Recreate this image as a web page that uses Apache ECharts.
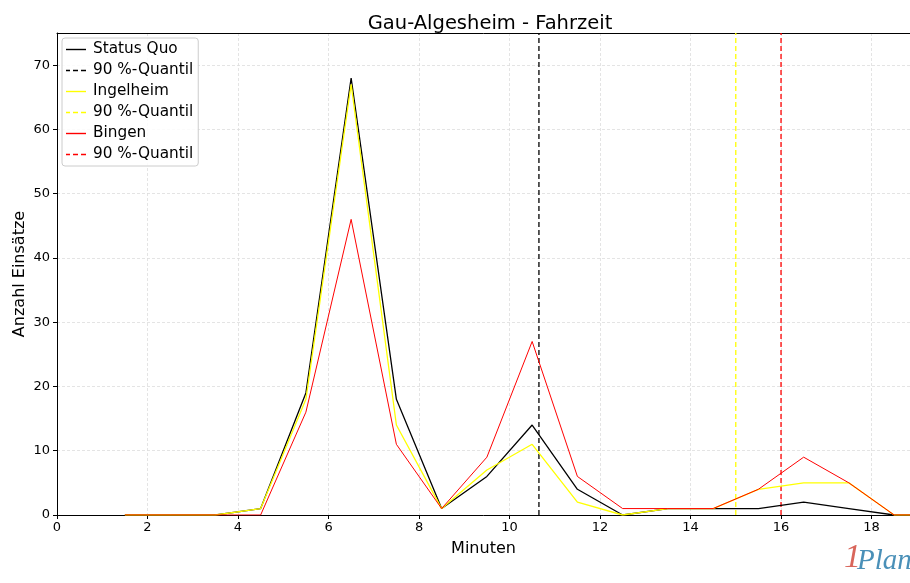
<!DOCTYPE html>
<html><head><meta charset="utf-8">
<script src="https://cdn.jsdelivr.net/npm/echarts@6/dist/echarts.min.js"></script>
<style>html,body{margin:0;padding:0;background:#fff}#c{width:910px;height:583px}</style>
</head><body><div id="c"></div>
<script>
const minutes = [1.5,2.5,3.5,4.5,5.5,6.5,7.5,8.5,9.5,10.5,11.5,12.5,13.5,14.5,15.5,16.5,17.5,18.5,19.5];
const statusQuo = [0,0,0,1,19,68,18,1,6,14,4,0,1,1,1,2,1,0,0];
const ingelheim = [0,0,0,1,18,67,14,1,7,11,2,0,1,1,4,5,5,0,0];
const bingen    = [0,0,0,0,16,46,11,1,9,27,6,1,1,1,4,9,5,0,0];
const quantilStatusQuo = 10.65;
const quantilIngelheim = 15.0;
const quantilBingen = 16.0;
const seriesNames = ['Status Quo','Ingelheim','Bingen'];
const quantilName = '90 %-Quantil';
const yTop = 75;

const chart = echarts.init(document.getElementById('c'));
const F = 'DejaVu Sans';
const colors = ['#000000','#ffff00','#ff0000'];
function pairs(ys){ return minutes.map((m,i)=>[m,ys[i]]); }
function lineSeries(name, ys, color, width){
  return {name, type:'line', data:pairs(ys), symbol:'none', clip:true,
    lineStyle:{color, width}, itemStyle:{color}, emphasis:{disabled:true}, z:3};
}
function qSeries(name, x, color){
  return {name, type:'line', data:[[x,0],[x,yTop]], symbol:'none', clip:true,
    lineStyle:{color, width:1.3, type:[5,3]}, itemStyle:{color}, emphasis:{disabled:true}, z:2};
}
const solidIcon = 'path://M0,5L20,5L20,6.4L0,6.4Z';
const dashIcon = 'path://M0,5L4,5L4,6.4L0,6.4ZM7,5L12,5L12,6.4L7,6.4ZM15,5L20,5L20,6.4L15,6.4Z';
chart.setOption({
  animation:false,
  title:{text:'Gau-Algesheim - Fahrzeit', left:485, top:9, textAlign:'center',
    textStyle:{fontFamily:F, fontSize:19.5, fontWeight:'normal', color:'#000'}},
  grid:{left:57, right:0, top:33, bottom:68, show:false, outerBoundsMode:'none'},
  legend:{orient:'vertical', left:62, top:38, padding:[4,5,4,4], itemGap:6,
    itemWidth:20, itemHeight:12, backgroundColor:'rgba(255,255,255,0.85)',
    borderColor:'#ccc', borderWidth:1, borderRadius:3,
    textStyle:{fontFamily:F, fontSize:15.3, color:'#000', padding:[0,0,0,2]},
    formatter: n => n.trim(),
    data:[
      {name:seriesNames[0], icon:solidIcon, itemStyle:{color:colors[0]}},
      {name:quantilName+' ', icon:dashIcon, itemStyle:{color:colors[0]}},
      {name:seriesNames[1], icon:solidIcon, itemStyle:{color:colors[1]}},
      {name:quantilName+'  ', icon:dashIcon, itemStyle:{color:colors[1]}},
      {name:seriesNames[2], icon:solidIcon, itemStyle:{color:colors[2]}},
      {name:quantilName+'   ', icon:dashIcon, itemStyle:{color:colors[2]}}
    ]},
  xAxis:[{type:'value', min:0, max:18.85, interval:2, name:'Minuten', nameLocation:'middle', nameGap:26,
    nameTextStyle:{fontFamily:F, fontSize:16, color:'#000'},
    axisLine:{show:true, lineStyle:{color:'#000'}}, axisTick:{show:true, length:4, lineStyle:{color:'#000'}},
    axisLabel:{fontFamily:F, fontSize:13, color:'#000', margin:6, showMaxLabel:false},
    splitLine:{show:true, lineStyle:{color:'#ddd', width:0.8, type:[3,2]}}},
   {type:'value', position:'top', min:0, max:18.85, axisLine:{show:true, onZero:false, lineStyle:{color:'#000'}},
    axisTick:{show:false}, axisLabel:{show:false}, splitLine:{show:false}}],
  yAxis:{type:'value', min:0, max:yTop, interval:10,
    axisLine:{show:true, lineStyle:{color:'#000'}}, axisTick:{show:true, length:4, lineStyle:{color:'#000'}},
    axisLabel:{fontFamily:F, fontSize:13, color:'#000', margin:7, showMaxLabel:false},
    splitLine:{show:true, lineStyle:{color:'#ddd', width:0.8, type:[3,2]}}},
  series:[
    lineSeries(seriesNames[0], statusQuo, colors[0], 1.3),
    qSeries(quantilName+' ', quantilStatusQuo, colors[0]),
    lineSeries(seriesNames[1], ingelheim, colors[1], 1.3),
    qSeries(quantilName+'  ', quantilIngelheim, colors[1]),
    lineSeries(seriesNames[2], bingen, colors[2], 1.0),
    qSeries(quantilName+'   ', quantilBingen, colors[2])
  ],
  graphic:[
    {type:'text', x:20, y:274, rotation:Math.PI/2,
      style:{text:'Anzahl Einsätze', align:'center', verticalAlign:'middle', fill:'#000', font:'16px "DejaVu Sans"'}},
    {type:'text', left:844, top:541, style:{text:'1', fill:'#d9665b', font:'italic 34px "Liberation Serif"'}},
    {type:'text', left:857, top:547, style:{text:'Plan', fill:'#4a90b8', font:'italic 29px "Liberation Serif"'}}
  ]
});
</script></body></html>
